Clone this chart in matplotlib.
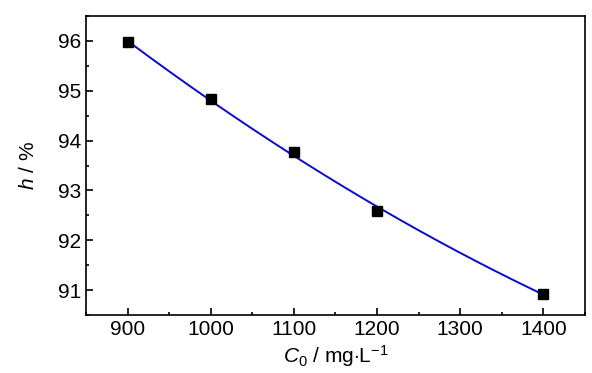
import matplotlib
matplotlib.use("Agg")
import matplotlib.pyplot as plt
import numpy as np
from matplotlib.ticker import MultipleLocator

plt.rcParams['font.family'] = ['Liberation Sans', 'DejaVu Sans']
plt.rcParams['mathtext.fontset'] = 'custom'
plt.rcParams['mathtext.rm'] = 'Liberation Sans'
plt.rcParams['mathtext.it'] = 'Liberation Sans:italic'

# data
c0 = [900, 1000, 1100, 1200, 1400]
h = [95.97, 94.83, 93.77, 92.58, 90.93]

fig = plt.figure(figsize=(5.92, 3.73), dpi=100)
ax = fig.add_axes([0.1453, 0.1555, 0.8427, 0.8015])

# fitted curve (quadratic, like the smooth fit in the original)
coef = np.polyfit(c0, h, 2)
xf = np.linspace(c0[0], c0[-1], 200)
ax.plot(xf, np.polyval(coef, xf), color='#0a0acc', lw=1.4, zorder=2)
ax.plot(c0, h, 's', color='black', ms=7, zorder=3)

ax.set_xlim(850, 1450)
ax.set_ylim(90.5, 96.5)
ax.xaxis.set_major_locator(MultipleLocator(100))
ax.xaxis.set_minor_locator(MultipleLocator(50))
ax.yaxis.set_major_locator(MultipleLocator(1))
ax.yaxis.set_minor_locator(MultipleLocator(0.5))

for s in ax.spines.values():
    s.set_linewidth(1.2)
ax.tick_params(which='both', direction='in', top=False, right=False, width=1.2, labelsize=15)
ax.tick_params(which='major', length=5, pad=3.5)
ax.tick_params(which='minor', length=2.5)

ax.set_xlabel(r'$C_0$ / mg$\cdot$L$^{-1}$', fontsize=15, labelpad=3)
ax.set_ylabel(r'$h$ / %', fontsize=15, labelpad=14)

fig.savefig('out.png', dpi=100)
